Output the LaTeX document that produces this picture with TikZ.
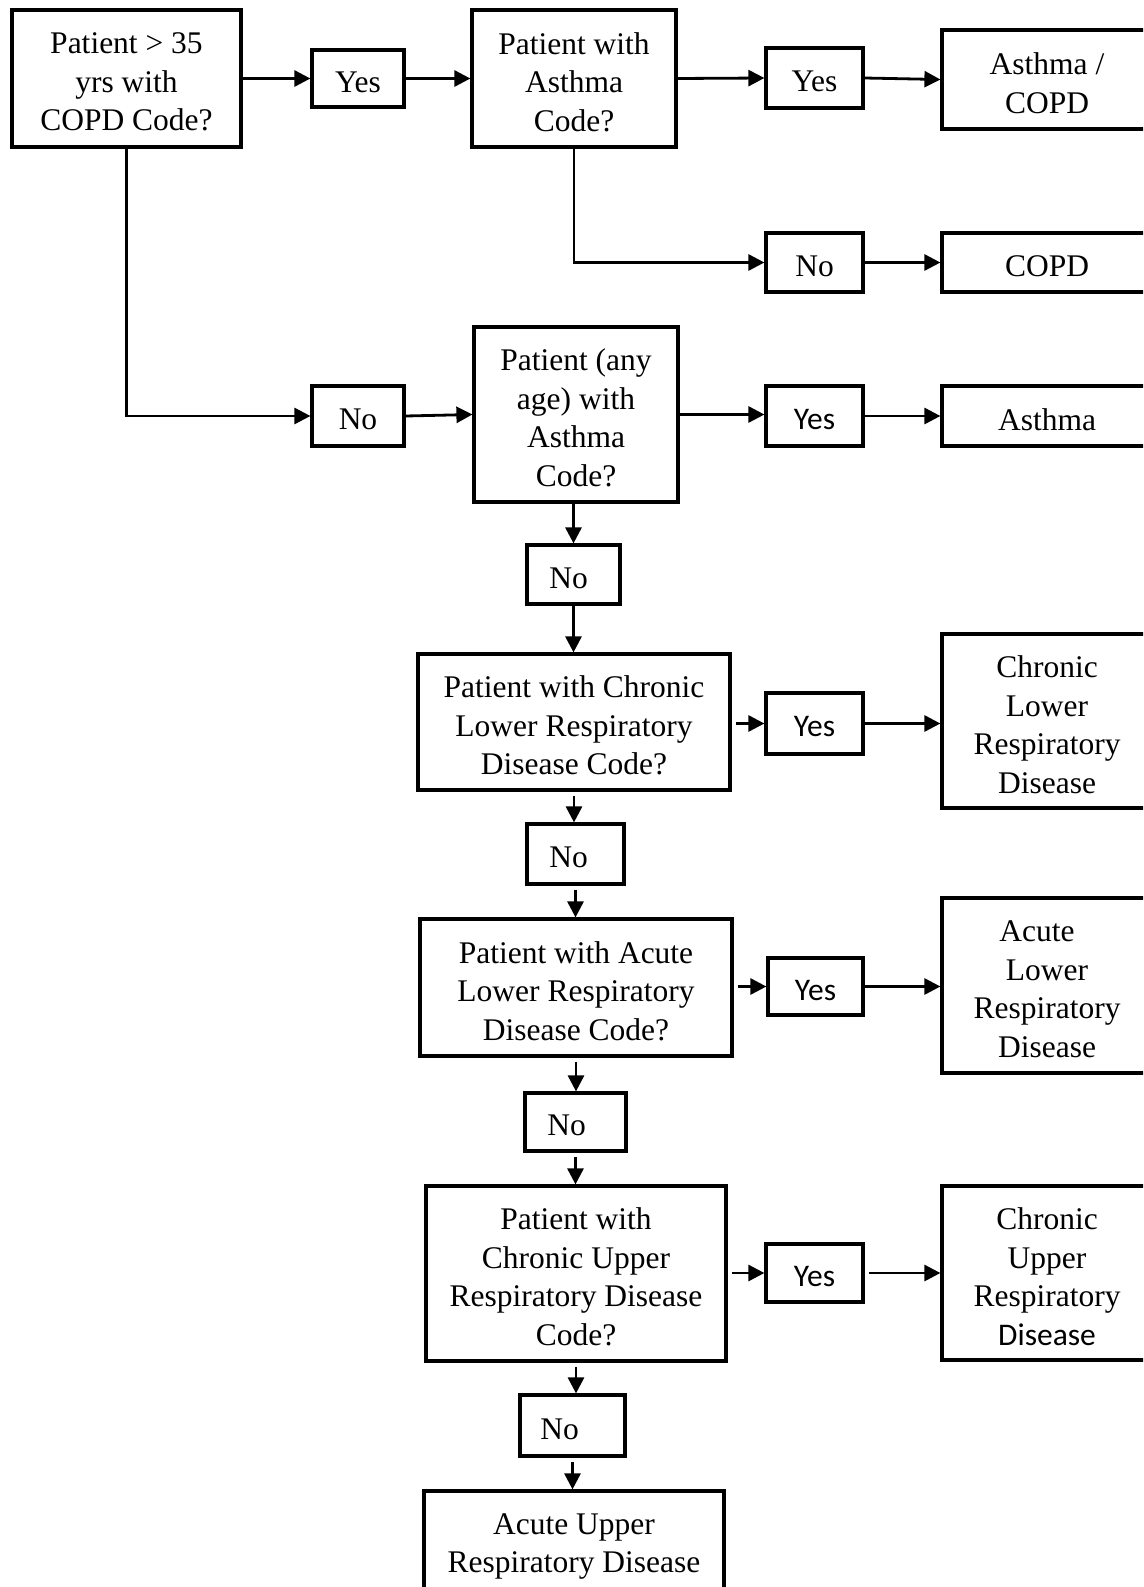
\documentclass[tikz,border=0pt]{standalone}
\usepackage{fontspec}
\setmainfont{Liberation Serif}
\newfontfamily\carl{Carlito}
\usetikzlibrary{arrows.meta}
\tikzset{
  frame/.style={draw, line width=3.2pt, inner sep=0pt},
  txt/.style={inner sep=0pt, align=center, font=\fontsize{31.5}{38.5}\selectfont},
  conn/.style={line width=2.8pt, -{Triangle[length=16pt,width=16pt]}},
  gapconn/.style={conn, shorten <=4pt}
}
\newcommand{\bx}[6]{%
  \node[frame, minimum width=#2, minimum height=#3] (#1) at (#4,#5) {};
  \node[txt] (#1t) at ([yshift=-3.5pt]#1.center) {#6};}
\begin{document}
\begin{tikzpicture}[x=1pt,y=-1pt]
\useasboundingbox (0,0) rectangle (1143,1587);
\fill[white] (0,0) rectangle (1143,1587);
\clip (0,0) rectangle (1143,1587);
% row 1
\bx{box1}{229}{137}{126.5}{78.5}{Patient > 35\\yrs with\\COPD Code?}
\bx{yes1}{92}{57}{358}{78.5}{Yes}
\bx{box2}{204}{137}{574}{78.5}{Patient with\\Asthma\\Code?}
\bx{yes2}{97}{60}{814.5}{78}{Yes}
\bx{res1}{210}{99}{1047}{79.5}{Asthma /\\COPD}
% row 2
\bx{no2}{97}{59}{814.5}{262.5}{No}
\bx{res2}{210}{59}{1047}{262.5}{COPD}
% row 3
\bx{no1}{92}{60}{358}{416}{No}
\bx{box3}{204}{175}{576}{414.5}{Patient (any\\age) with\\Asthma\\Code?}
\bx{yes3}{97}{60}{814.5}{416}{\carl Yes}
\bx{res3}{210}{60}{1047}{416}{Asthma}
% row 4
\bx{no4}{93}{59}{573.5}{574.5}{No\hspace*{10pt}}
\bx{box4}{312}{136}{574}{722}{Patient with Chronic\\Lower Respiratory\\Disease Code?}
\bx{yes4}{97}{61}{814.5}{723.5}{\carl Yes}
\bx{res4}{210}{174}{1047}{721}{Chronic\\Lower\\Respiratory\\Disease}
% row 5
\bx{no5}{97}{60}{575.5}{854}{No\hspace*{14pt}}
\bx{box5}{312}{137}{576}{987.5}{Patient with Acute\\Lower Respiratory\\Disease Code?}
\bx{yes5}{95}{57}{815.5}{986.5}{\carl Yes}
\bx{res5}{210}{175}{1047}{985.5}{Acute\hspace*{20pt}\\Lower\\Respiratory\\Disease}
% row 6
\bx{no6}{101}{58}{575.5}{1122}{No\hspace*{18pt}}
\bx{box6}{300}{175}{576}{1273.5}{Patient with\\Chronic Upper\\Respiratory Disease\\Code?}
\bx{yes6}{97}{58}{814.5}{1273}{\carl Yes}
\bx{res6}{210}{174}{1047}{1273}{Chronic\\Upper\\Respiratory\\{\carl Disease}}
% row 7
\bx{no7}{105}{61}{572.5}{1425.5}{No\hspace*{26pt}}
\bx{box7}{300}{104}{574}{1543}{Acute Upper\\Respiratory Disease}
% connectors
\draw[conn] (box1.east) -- (yes1.west);
\draw[conn] (yes1.east) -- (box2.west);
\draw[conn] (box2.east) -- (yes2.west);
\draw[conn] (yes2.east) -- (res1.west);
\draw[conn] (box2.south) |- (no2.west);
\draw[conn] (no2.east) -- (res2.west);
\draw[conn] (box1.south) |- (no1.west);
\draw[conn] (no1.east) -- (box3.west);
\draw[conn] (box3.east) -- (box3.east -| yes3.west);
\draw[conn] (yes3.east) -- (res3.west);
\draw[conn] (box3.south -| no4.north) -- (no4.north);
\draw[conn] (no4.south) -- (no4.south |- box4.north);
\draw[gapconn] (box4.east |- yes4.west) -- (yes4.west);
\draw[conn] (yes4.east) -- (yes4.east -| res4.west);
\draw[gapconn] (box4.south) -- (box4.south |- no5.north);
\draw[gapconn] (no5.south) -- (no5.south |- box5.north);
\draw[gapconn] (box5.east |- yes5.west) -- (yes5.west);
\draw[conn] (yes5.east) -- (yes5.east -| res5.west);
\draw[gapconn] (box5.south) -- (box5.south |- no6.north);
\draw[gapconn] (no6.south) -- (no6.south |- box6.north);
\draw[gapconn] (box6.east |- yes6.west) -- (yes6.west);
\draw[gapconn] (yes6.east) -- (yes6.east -| res6.west);
\draw[gapconn] (box6.south) -- (box6.south |- no7.north);
\draw[gapconn] (no7.south) -- (no7.south |- box7.north);
\end{tikzpicture}
\end{document}
